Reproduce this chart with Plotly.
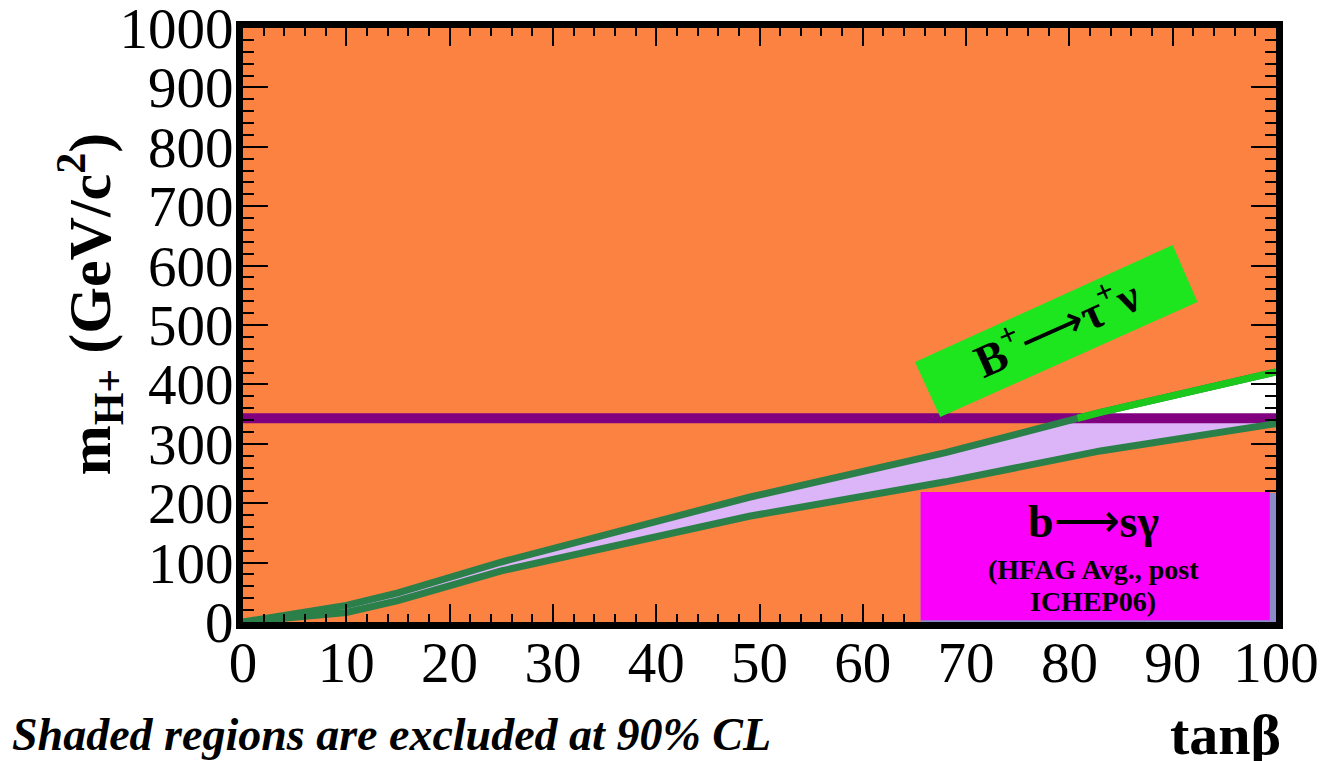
import numpy as np
import plotly.graph_objects as go

# ---- data ----
tanb = [0, 10, 15, 25, 49, 68, 83, 100]
btaunu_upper = [0, 28, 49, 101, 210, 285, 353, 421]   # upper B->tau nu boundary (GeV/c^2)
btaunu_lower = [0, 16, 36, 86, 178, 236, 288, 334]    # lower B->tau nu boundary
bsg_x = [0, 100]
bsg_limit = [343, 343]                                 # b->s gamma lower limit on m_H+
x_ticks = list(range(0, 101, 10))
y_ticks = list(range(0, 1001, 100))

ORANGE = "#FC8242"
LAVENDER = "#DCB4F8"
DKGREEN = "#2A8048"
BRGREEN = "#1CC81C"
PURPLE = "#800080"
MAGENTA = "#FA00FA"
BOXGREEN = "#1EE61E"
BLUEGRAY = "#8C8CC8"
SERIF = "Liberation Serif"

fig = go.Figure()

# allowed wedge between B->tau nu boundaries (lavender where b->s gamma excludes)
fig.add_trace(go.Scatter(
    x=tanb + tanb[::-1], y=btaunu_upper + btaunu_lower[::-1],
    fill="toself", fillcolor=LAVENDER, mode="none", hoverinfo="skip", showlegend=False))

# part of the wedge above the b->s gamma limit: allowed by everything (white)
t = np.array(tanb, float)
u = np.array(btaunu_upper, float)
lo = np.array(btaunu_lower, float)
lim = bsg_limit[0]
x_cross = float(np.interp(lim, u, t))
sel = t > x_cross
xs_w = np.concatenate([[x_cross], t[sel]])
up_w = np.concatenate([[lim], u[sel]])
lo_w = np.maximum(np.interp(xs_w, t, lo), lim)
fig.add_trace(go.Scatter(
    x=list(xs_w) + list(xs_w[::-1]), y=list(up_w) + list(lo_w[::-1]),
    fill="toself", fillcolor="white", mode="none", hoverinfo="skip", showlegend=False))

# b->s gamma limit
fig.add_trace(go.Scatter(x=bsg_x, y=bsg_limit, mode="lines",
                         line=dict(color=PURPLE, width=10), hoverinfo="skip", showlegend=False))

# B->tau nu boundaries
fig.add_trace(go.Scatter(x=tanb, y=btaunu_upper, mode="lines",
                         line=dict(color=DKGREEN, width=7), hoverinfo="skip", showlegend=False))
fig.add_trace(go.Scatter(x=tanb, y=btaunu_lower, mode="lines",
                         line=dict(color=DKGREEN, width=7), hoverinfo="skip", showlegend=False))
fig.add_trace(go.Scatter(x=list(xs_w), y=list(up_w), mode="lines",
                         line=dict(color=BRGREEN, width=7), hoverinfo="skip", showlegend=False))

# label boxes
fig.add_shape(type="rect", x0=65.6, x1=100, y0=0, y1=217, xref="x", yref="y",
              fillcolor=BLUEGRAY, line_width=0)
fig.add_shape(type="rect", x0=65.6, x1=99.4, y0=3, y1=219, xref="x", yref="y",
              fillcolor=MAGENTA, line_width=0)
fig.add_shape(type="path", path="M 65.05 437.7 L 67.5 345 L 92.4 538.7 L 90.0 634.7 Z",
              xref="x", yref="y", fillcolor=BOXGREEN, line_width=0)

fig.add_annotation(x=78.7, y=500, xref="x", yref="y",
                   text="<b>B<sup>+</sup></b>⟶<b>τ<sup>+</sup>ν</b>",
                   textangle=-24, showarrow=False, xanchor="center", yanchor="middle",
                   font=dict(family=SERIF, size=46, color="black"))
fig.add_annotation(x=82.3, y=170, xref="x", yref="y", text="<b>b</b>⟶<b>sγ</b>",
                   showarrow=False, xanchor="center", yanchor="middle",
                   font=dict(family=SERIF, size=46, color="black"))
fig.add_annotation(x=82.3, y=88, xref="x", yref="y", text="<b>(HFAG Avg., post</b>",
                   showarrow=False, xanchor="center", yanchor="middle",
                   font=dict(family=SERIF, size=28, color="black"))
fig.add_annotation(x=82.3, y=34, xref="x", yref="y", text="<b>ICHEP06)</b>",
                   showarrow=False, xanchor="center", yanchor="middle",
                   font=dict(family=SERIF, size=28, color="black"))

# axis titles and note
fig.add_annotation(x=-0.148, y=0.535, xref="paper", yref="paper",
                   text="<b>m<sub>H+</sub> (GeV/c<sup>2</sup>)</b>", textangle=-90,
                   xanchor="center", yanchor="middle",
                   showarrow=False, font=dict(family=SERIF, size=60, color="black"))
fig.add_annotation(x=0.951, y=-0.19, xref="paper", yref="paper", text="<b>tanβ</b>",
                   xanchor="center", yanchor="middle",
                   showarrow=False, font=dict(family=SERIF, size=58, color="black"))
fig.add_annotation(x=-0.226, y=-0.19, xref="paper", yref="paper", xanchor="left", yanchor="middle",
                   text="<b><i>Shaded regions are excluded at 90% CL</i></b>",
                   showarrow=False, font=dict(family=SERIF, size=46, color="black"))

axis_common = dict(showline=True, linewidth=7, linecolor="black", mirror="allticks",
                   ticks="inside", tickwidth=2, tickcolor="black", showgrid=False,
                   zeroline=False, ticklabeloverflow="allow",
                   tickfont=dict(family=SERIF, size=57, color="black"))
fig.update_xaxes(range=[0, 100], tickvals=x_ticks, ticklen=18, ticklabelstandoff=-15,
                 minor=dict(dtick=2, ticklen=8, tickwidth=2, ticks="inside", tickcolor="black"),
                 **axis_common)
fig.update_yaxes(range=[0, 1000], tickvals=y_ticks, ticklen=25, ticklabelstandoff=-9,
                 minor=dict(dtick=20, ticklen=11, tickwidth=2, ticks="inside", tickcolor="black"),
                 **axis_common)

# the page body adds an 8px offset, so the figure is 8px smaller and its margins shifted
fig.update_layout(width=1318, height=753, margin=dict(l=235, r=50, t=20, b=139, autoexpand=False),
                  plot_bgcolor=ORANGE, paper_bgcolor="white", showlegend=False)

fig.write_html("out.html")
